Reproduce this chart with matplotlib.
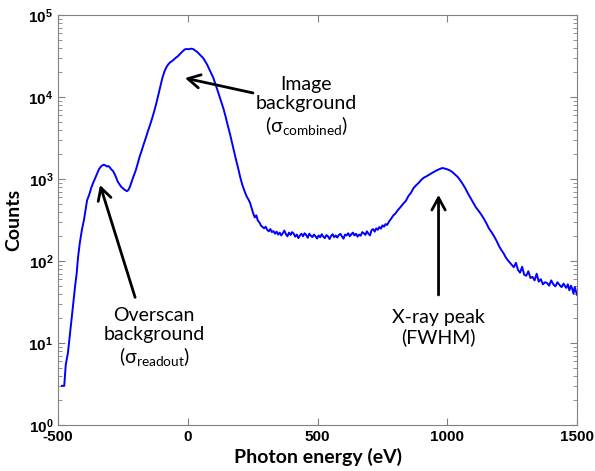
#!/usr/bin/env python3
"""
Photon energy spectrum with annotated background / X-ray peaks
"""
import matplotlib
matplotlib.use('Agg')
import matplotlib.pyplot as plt

plt.rcParams['mathtext.fontset'] = 'custom'
plt.rcParams['mathtext.rm'] = 'Lato'
plt.rcParams['mathtext.bf'] = 'Liberation Sans:bold'

# spectrum (eV, counts)
energy = [-485, -476, -470, -462, -454, -446, -440, -434, -428, -423, -416, -408,
          -400, -394, -388, -380, -372, -365, -358, -350, -342, -336, -330, -324,
          -318, -312, -306, -300, -294, -288, -282, -276, -270, -262, -256, -250,
          -244, -238, -234, -228, -222, -216, -210, -202, -194, -186, -178, -170,
          -162, -154, -146, -138, -130, -122, -114, -106, -98, -90, -82, -76,
          -68, -60, -52, -44, -40, -36, -28, -20, -12, -4, 4, 12,
          20, 28, 36, 44, 52, 59, 66, 74, 82, 90, 98, 106,
          114, 122, 130, 138, 146, 154, 162, 170, 178, 186, 194, 202,
          210, 218, 226, 234, 240, 246, 252, 258, 264, 270, 276, 282,
          288, 294, 300, 306, 312, 318, 324, 330, 336, 342, 348, 354,
          360, 366, 372, 378, 384, 390, 396, 402, 408, 414, 420, 426,
          432, 438, 444, 450, 456, 462, 468, 474, 480, 486, 492, 498,
          504, 510, 516, 522, 528, 534, 540, 546, 552, 558, 564, 570,
          576, 582, 588, 594, 600, 606, 612, 618, 624, 630, 636, 642,
          648, 654, 660, 666, 672, 678, 684, 690, 696, 702, 708, 714,
          720, 726, 732, 738, 744, 750, 756, 762, 768, 776, 784, 792,
          800, 810, 820, 830, 840, 850, 860, 870, 880, 890, 900, 910,
          920, 930, 940, 950, 960, 970, 980, 990, 1000, 1010, 1020, 1030,
          1040, 1050, 1060, 1070, 1080, 1090, 1100, 1110, 1120, 1130, 1140, 1150,
          1160, 1170, 1180, 1190, 1200, 1208, 1216, 1224, 1232, 1240, 1248, 1256,
          1264, 1272, 1280, 1288, 1296, 1304, 1312, 1320, 1328, 1336, 1344, 1352,
          1360, 1368, 1376, 1384, 1392, 1400, 1408, 1416, 1424, 1432, 1440, 1448,
          1452, 1458, 1464, 1470, 1476, 1481, 1486, 1491, 1496, 1500]
counts = [3.0, 3.0, 5.5, 7.5, 13, 22, 33, 50, 71, 110, 166, 240,
          317, 420, 550, 640, 780, 890, 1000, 1150, 1320, 1400, 1460, 1490,
          1470, 1420, 1440, 1380, 1300, 1250, 1150, 1040, 930, 850, 800, 770,
          740, 720, 712, 740, 820, 930, 1060, 1230, 1500, 1850, 2200, 2650,
          3150, 3800, 4500, 5400, 6600, 8200, 10500, 13500, 17000, 20500, 23200, 24800,
          26500, 27500, 29000, 30500, 31000, 32000, 34000, 36000, 38000, 38500, 38200, 38800,
          38500, 37000, 35500, 33500, 31500, 29900, 27500, 25000, 22000, 19500, 17200, 14500,
          12200, 10200, 8500, 7100, 5700, 4500, 3600, 2800, 2200, 1700, 1350, 1050,
          850, 720, 620, 560, 510, 440, 380, 340, 360, 310, 295, 270,
          260, 250, 262, 240, 230, 245, 225, 232, 215, 228, 210, 222,
          205, 218, 235, 212, 200, 222, 208, 225, 215, 198, 210, 190,
          205, 215, 200, 218, 208, 192, 215, 203, 196, 210, 200, 188,
          205, 195, 212, 198, 190, 207, 200, 185, 202, 212, 195, 205,
          193, 208, 214, 199, 187, 210, 205, 218, 200, 212, 222, 205,
          215, 198, 210, 203, 225, 218, 208, 230, 215, 205, 238, 245,
          228, 250, 240, 260, 248, 272, 262, 282, 275, 305, 330, 360,
          380, 420, 456, 500, 540, 620, 680, 777, 840, 900, 980, 1040,
          1080, 1130, 1180, 1230, 1280, 1320, 1360, 1340, 1310, 1270, 1210, 1130,
          1057, 960, 860, 760, 660, 580, 510, 450, 410, 370, 330, 290,
          250, 225, 200, 175, 150, 136, 125, 112, 103, 96, 90, 84,
          95, 78, 72, 85, 68, 66, 75, 62, 64, 58, 70, 56,
          60, 52, 55, 54, 50, 58, 52, 49, 55, 51, 48, 53,
          50, 47, 52, 44, 50, 46, 40, 48, 42, 38.5]

# annotation texts: label, text centre, arrow head, arrow tail
labels = ['Image\nbackground\n(σ$_{\\mathrm{combined}}$)',
          'Overscan\nbackground\n(σ$_{\\mathrm{readout}}$)',
          'X-ray peak\n(FWHM)']
text_xy = [(456, 7550), (-130, 11.5), (964, 15.5)]
head_xy = [(-11, 17000), (-338, 845), (966, 640)]
tail_xy = [(251, 11200), (-203, 36), (966, 38.5)]

fig = plt.figure(figsize=(5.95, 4.71), dpi=100)
ax = fig.add_axes([0.0975, 0.0977, 0.8725, 0.8705])

ax.plot(energy, counts, color='#0000ff', linewidth=1.4)
ax.set_yscale('log')
ax.set_xlim(-500, 1500)
ax.set_ylim(1, 1e5)

for lab, txy, hxy, sxy in zip(labels, text_xy, head_xy, tail_xy):
    ax.annotate('', xy=hxy, xytext=sxy,
                arrowprops=dict(arrowstyle='->,head_length=0.55,head_width=0.3',
                                color='black', lw=2, mutation_scale=16,
                                shrinkA=0, shrinkB=0))
    ax.text(txy[0], txy[1], lab, ha='center', va='center', fontsize=14,
            family=['Lato', 'DejaVu Sans'], linespacing=1.15)

ax.set_xticks([-500, 0, 500, 1000, 1500])
ax.set_xticklabels(['-500', '0', '500', '1000', '1500'])
ax.set_yticks([1, 10, 100, 1e3, 1e4, 1e5])
ax.set_yticklabels([r'$\mathbf{10^{%d}}$' % i for i in range(6)])
for lab in ax.get_xticklabels():
    lab.set_fontweight('bold')
    lab.set_family('Liberation Sans')
ax.tick_params(axis='both', which='both', direction='in', colors='#808080',
               labelcolor='black', labelsize=11, top=True, right=True)
ax.tick_params(axis='x', which='minor', bottom=False, top=False)
ax.tick_params(which='major', length=5)
ax.tick_params(which='minor', length=3)
for s in ax.spines.values():
    s.set_color('#808080')

ax.set_xlabel('Photon energy (eV)', fontsize=14, fontweight='bold', family='Lato', labelpad=3)
ax.set_ylabel('Counts', fontsize=14, fontweight='bold', family='Lato', labelpad=4)

fig.savefig('out.png', dpi=100)
print("saved out.png")
